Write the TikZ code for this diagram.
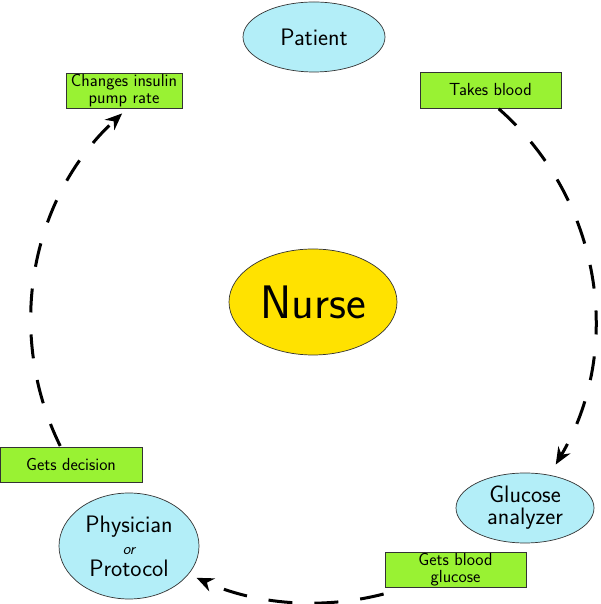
\documentclass[tikz,border=0pt]{standalone}
\usetikzlibrary{shapes.geometric,arrows.meta,calc}
\definecolor{cyanfill}{HTML}{B3EEF8}
\definecolor{limefill}{HTML}{99F233}
\definecolor{yellowfill}{HTML}{FFE200}
\begin{document}
\begin{tikzpicture}[x=1pt,y=1pt,
  ell/.style={ellipse,draw=black!80,line width=0.7pt,fill=cyanfill,inner sep=0pt,align=center,font=\sffamily\fontsize{23.8}{22}\selectfont},
  box/.style={rectangle,draw=black!80,line width=0.7pt,fill=limefill,inner sep=0pt,align=center,font=\sffamily\fontsize{17.5}{16.8}\selectfont},
  flow/.style={line width=3pt,dash pattern=on 24pt off 22pt,-{Stealth[length=17pt,width=14pt]}}]
\useasboundingbox (0,0) rectangle (600,604);
% nodes
\node[ell,minimum width=142pt,minimum height=70pt] (patient) at (314,567) {Patient};
\node[ellipse,draw=black!80,fill=yellowfill,line width=0.7pt,minimum width=168pt,minimum height=106pt,inner sep=0pt,font=\sffamily\fontsize{47}{47}\selectfont] (nurse) at (313,302) {Nurse};
\node[ell,minimum width=138pt,minimum height=70pt] (glucose) at (525,96) {Glucose\\analyzer};
\node[ell,minimum width=140pt,minimum height=106pt] (physician) at (129,58) {Physician\\{\fontsize{16}{21}\selectfont\itshape or}\\Protocol};
\node[box,minimum width=116pt,minimum height=35pt] (changes) at (124,513.5) {Changes insulin\\pump rate};
\node[box,minimum width=141pt,minimum height=36pt] (takes) at (490.5,514) {Takes blood};
\node[box,minimum width=142pt,minimum height=35pt] (decision) at (71,139.5) {Gets decision};
\node[box,minimum width=141pt,minimum height=35pt] (gbg) at (455.5,34.5) {Gets blood\\glucose};
% cycle
\coordinate (O) at (313,283);
\coordinate (s1) at ($(O)+(48.8:282)$);
\coordinate (s2) at ($(O)+(-75.5:282)$);
\coordinate (s3) at ($(O)+(206.3:282)$);
\draw[flow] (s1) arc[start angle=48.8, end angle=-30.6, radius=282];
\draw[flow] (s2) arc[start angle=-75.5, end angle=-114.4, radius=282];
\draw[flow] (s3) arc[start angle=206.3, end angle=132.6, radius=282];
\end{tikzpicture}
\end{document}
